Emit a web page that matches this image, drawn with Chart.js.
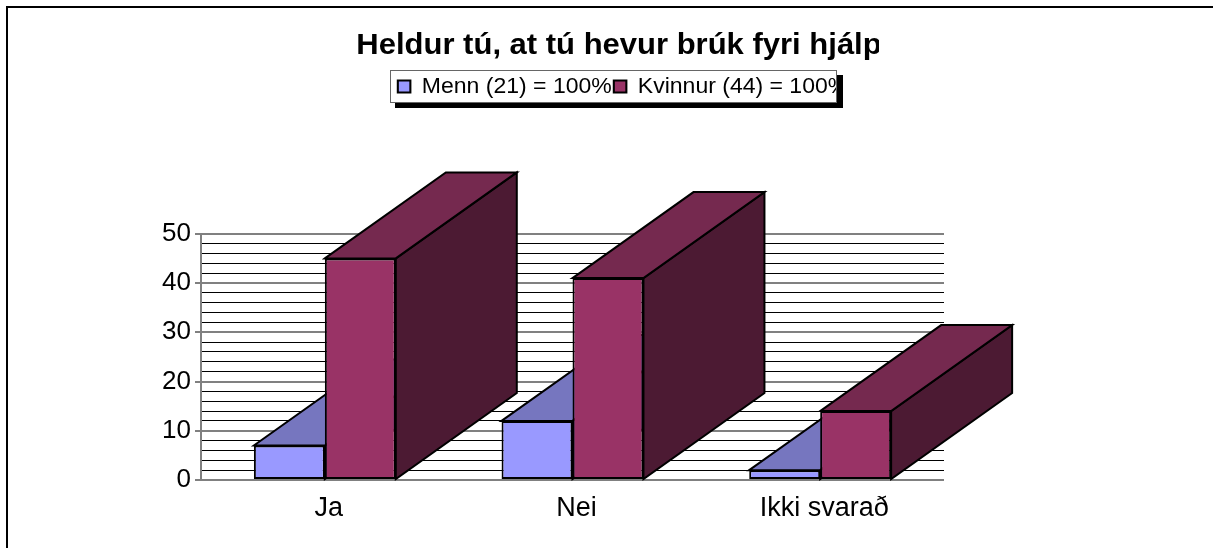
<!DOCTYPE html>
<html>
<head>
<meta charset="utf-8">
<style>html,body{margin:0;padding:0;background:#fff}canvas{display:block}</style>
<script src="https://cdn.jsdelivr.net/npm/chart.js@4"></script>
</head>
<body>
<canvas id="c" width="1213" height="548"></canvas>
<script>
const categories = ["Ja", "Nei", "Ikki svarað"];
const menn = [7, 12, 2];
const kvinnur = [45, 41, 14];
const seriesNames = ["Menn (21) = 100%", "Kvinnur (44) = 100%"];
const chartTitle = "Heldur tú, at tú hevur brúk fyri hjálp";

const FONT = '"Liberation Sans", Arial, sans-serif';
const DEPTH_X = 121, DEPTH_Y = 86;
const shades = [
  { top: "#7676BF", side: "#4C4C80" },
  { top: "#75294F", side: "#4C1A33" }
];
const LEG = { l: 390, t: 70, r: 836, b: 102, s: 6 };

const depth3d = {
  id: "depth3d",
  beforeDatasetsDraw(chart) {
    const ctx = chart.ctx;
    [0, 1].forEach(i => {
      const sh = shades[i], meta = chart.getDatasetMeta(i);
      ctx.save();
      ctx.strokeStyle = "#000";
      ctx.lineWidth = 2;
      ctx.lineJoin = "miter";
      meta.data.forEach(b => {
        const p = b.getProps(["x", "y", "base", "width"], true);
        const l = p.x - p.width / 2, r = p.x + p.width / 2, t = p.y, bt = p.base;
        ctx.fillStyle = sh.side;
        ctx.beginPath();
        ctx.moveTo(r, t); ctx.lineTo(r + DEPTH_X, t - DEPTH_Y);
        ctx.lineTo(r + DEPTH_X, bt - DEPTH_Y); ctx.lineTo(r, bt);
        ctx.closePath(); ctx.fill(); ctx.stroke();
        ctx.fillStyle = sh.top;
        ctx.beginPath();
        ctx.moveTo(l, t); ctx.lineTo(l + DEPTH_X, t - DEPTH_Y);
        ctx.lineTo(r + DEPTH_X, t - DEPTH_Y); ctx.lineTo(r, t);
        ctx.closePath(); ctx.fill(); ctx.stroke();
      });
      ctx.restore();
      meta.data.forEach(b => b.draw(ctx));
    });
    return false;
  }
};

function stretchDraw(box, ctx, cx, sx) {
  if (box._stretched) return;
  box._stretched = true;
  const d = box.draw;
  box.draw = function () {
    ctx.save();
    ctx.translate(cx, 0);
    ctx.scale(sx, 1);
    ctx.translate(-cx, 0);
    d.apply(box, arguments);
    ctx.restore();
  };
}

const frame = {
  id: "frame",
  afterLayout(chart) {
    const t = chart.titleBlock, g = chart.legend;
    t.left += 147; t.right += 147;
    g.left += 151; g.right += 151;
    const dy = 73.5 - g.top;
    g.top += dy; g.bottom += dy;
    stretchDraw(t, chart.ctx, (t.left + t.right) / 2, 31 / 29);
    stretchDraw(g, chart.ctx, (g.left + g.right) / 2, 23 / 22);
  },
  beforeDraw(chart) {
    const ctx = chart.ctx;
    ctx.save();
    ctx.fillStyle = "#fff";
    ctx.fillRect(0, 0, 1213, 548);
    ctx.strokeStyle = "#000";
    ctx.lineWidth = 2;
    ctx.beginPath();
    ctx.moveTo(7, 548); ctx.lineTo(7, 7); ctx.lineTo(1213, 7);
    ctx.stroke();
    ctx.restore();
  },
  afterDraw(chart) {
    const ctx = chart.ctx;
    ctx.save();
    ctx.fillStyle = "#fff";
    ctx.fillRect(879, 24, 40, 44);
    ctx.fillRect(LEG.r, LEG.t - 1, 40, LEG.b - LEG.t + 16);
    ctx.fillStyle = "#000";
    ctx.fillRect(LEG.r, LEG.t + LEG.s - 1, LEG.s + 1, LEG.b - LEG.t + 1);
    ctx.fillRect(LEG.l + LEG.s - 1, LEG.b, LEG.r - LEG.l + 2, LEG.s);
    ctx.strokeStyle = "#666";
    ctx.lineWidth = 1;
    ctx.strokeRect(LEG.l + .5, LEG.t + .5, LEG.r - LEG.l, LEG.b - LEG.t);
    ctx.restore();
  }
};

new Chart(document.getElementById("c"), {
  type: "bar",
  data: {
    labels: categories,
    datasets: [
      { label: seriesNames[0], data: menn, backgroundColor: "#9999FF", borderColor: "#000", borderWidth: 2, borderSkipped: false },
      { label: seriesNames[1], data: kvinnur, backgroundColor: "#993366", borderColor: "#000", borderWidth: 2, borderSkipped: false }
    ]
  },
  plugins: [frame, depth3d],
  options: {
    responsive: false,
    animation: false,
    layout: { padding: { left: 0, right: 269, top: 0, bottom: 0 } },
    datasets: { bar: { barPercentage: 1, categoryPercentage: 0.573 } },
    plugins: {
      tooltip: { enabled: false },
      title: {
        display: true,
        text: chartTitle,
        color: "#000",
        font: { family: FONT, size: 29, weight: "bold" },
        padding: { top: 29, bottom: 136 }
      },
      legend: {
        display: true,
        position: "top",
        labels: {
          color: "#000",
          font: { family: FONT, size: 22 },
          boxWidth: 12,
          boxHeight: 12,
          padding: 2
        }
      }
    },
    scales: {
      x: {
        offset: true,
        grid: { display: false },
        border: { display: false },
        afterFit(s) { s.height = 68; },
        ticks: { color: "#000", font: { family: FONT, size: 27 }, padding: 4, labelOffset: 4, maxRotation: 0 }
      },
      y: {
        min: 0,
        max: 50,
        afterFit(s) { s.width = 201; },
        border: { color: "#808080", width: 2 },
        grid: {
          color: c => (c.tick.value % 10 === 0 ? "#808080" : "#000"),
          lineWidth: c => (c.tick.value % 10 === 0 ? 2 : 1),
          tickColor: c => (c.tick.value % 10 === 0 ? "#808080" : "transparent"),
          tickLength: 6
        },
        ticks: {
          stepSize: 2,
          autoSkip: false,
          color: "#000",
          padding: 4,
          font: { family: FONT, size: 26 },
          callback: v => (v % 10 === 0 ? String(v) : "")
        }
      }
    }
  }
});
</script>
</body>
</html>
